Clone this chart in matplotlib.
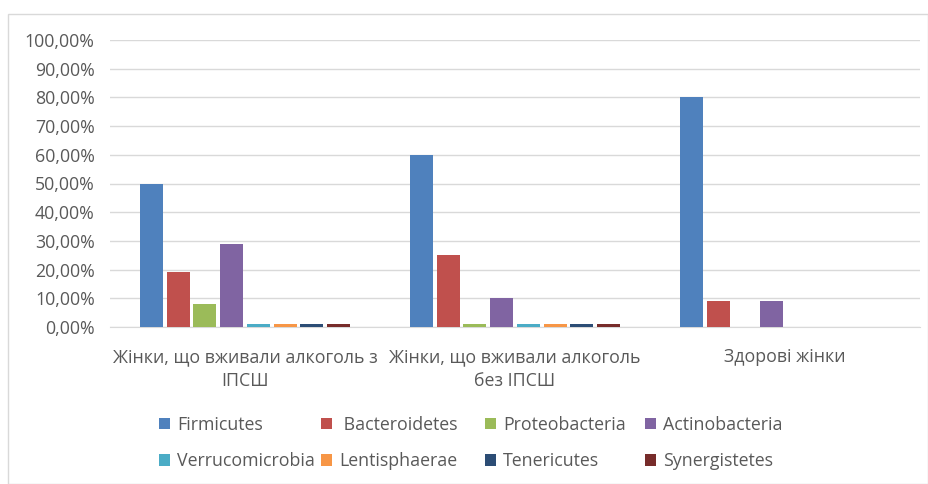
import matplotlib.pyplot as plt
import numpy as np
from matplotlib.patches import Rectangle

plt.rcParams['font.family'] = ['Open Sans', 'DejaVu Sans']

groups = ['Жінки, що вживали алкоголь з\nІПСШ',
          'Жінки, що вживали алкоголь\nбез ІПСШ',
          'Здорові жінки']
phyla = ['Firmicutes', ' Bacteroidetes', 'Proteobacteria', 'Actinobacteria',
         'Verrucomicrobia', 'Lentisphaerae', 'Tenericutes', 'Synergistetes']
# values in percent, per phylum, for the three groups
firmicutes = [50, 60, 80]
bacteroidetes = [19, 25, 9]
proteobacteria = [8, 1, 0.1]
actinobacteria = [29, 10, 9]
verrucomicrobia = [1, 1, 0.1]
lentisphaerae = [1, 1, 0.1]
tenericutes = [1, 1, 0.1]
synergistetes = [1, 1, 0.1]
yticks = [0, 10, 20, 30, 40, 50, 60, 70, 80, 90, 100]

series = [firmicutes, bacteroidetes, proteobacteria, actinobacteria,
          verrucomicrobia, lentisphaerae, tenericutes, synergistetes]
colors = ['#4F81BD', '#C0504D', '#9BBB59', '#8064A2',
          '#4BACC6', '#F79646', '#2C4D75', '#772C2A']
txt = '#595959'
fs = 12.8

fig = plt.figure(figsize=(9.29, 4.84), dpi=100)
# chart border
fig.patches.append(Rectangle((8/929, 0), 1 - 8/929 - 1/929, 1 - 14/484,
                             transform=fig.transFigure, fill=False,
                             edgecolor='#d9d9d9', linewidth=1))
ax = fig.add_axes([110/929, 157/484, 810/929, 287/484])

x = np.arange(len(groups))
step = 0.099
width = 0.085
bars = []
for i, (vals, c, lab) in enumerate(zip(series, colors, phyla)):
    bars.append(ax.bar(x + (i - 3.5) * step, vals, width, color=c,
                       label=lab, zorder=3))

ax.set_xlim(-0.5, 2.5)
ax.set_ylim(0, 100)
ax.set_yticks(yticks)
ax.set_yticklabels([f'{v:.2f}%'.replace('.', ',') for v in yticks])
ax.set_xticks(x)
ax.set_xticklabels(groups, linespacing=1.45)
ax.grid(axis='y', color='#d9d9d9', linewidth=1, zorder=0)
for s in ['top', 'right', 'left']:
    ax.spines[s].set_visible(False)
ax.spines['bottom'].set_color('#d9d9d9')
ax.tick_params(axis='both', length=0, colors=txt, labelsize=fs)
ax.tick_params(axis='y', pad=11)
ax.tick_params(axis='x', pad=15)

# legend: 2 rows x 4 evenly spaced columns, one small legend per column
col_x = [159, 321, 485, 645]
for j, cx in enumerate(col_x):
    leg = fig.legend([bars[j], bars[j + 4]], [phyla[j], phyla[j + 4]],
                     loc='center left', bbox_to_anchor=(cx / 929, 1 - 443 / 484),
                     frameon=False, fontsize=fs, labelcolor=txt,
                     handlelength=0.6, handleheight=0.6, handletextpad=0.4,
                     labelspacing=1.05, borderpad=0, borderaxespad=0)

fig.savefig('out.png', dpi=100)
